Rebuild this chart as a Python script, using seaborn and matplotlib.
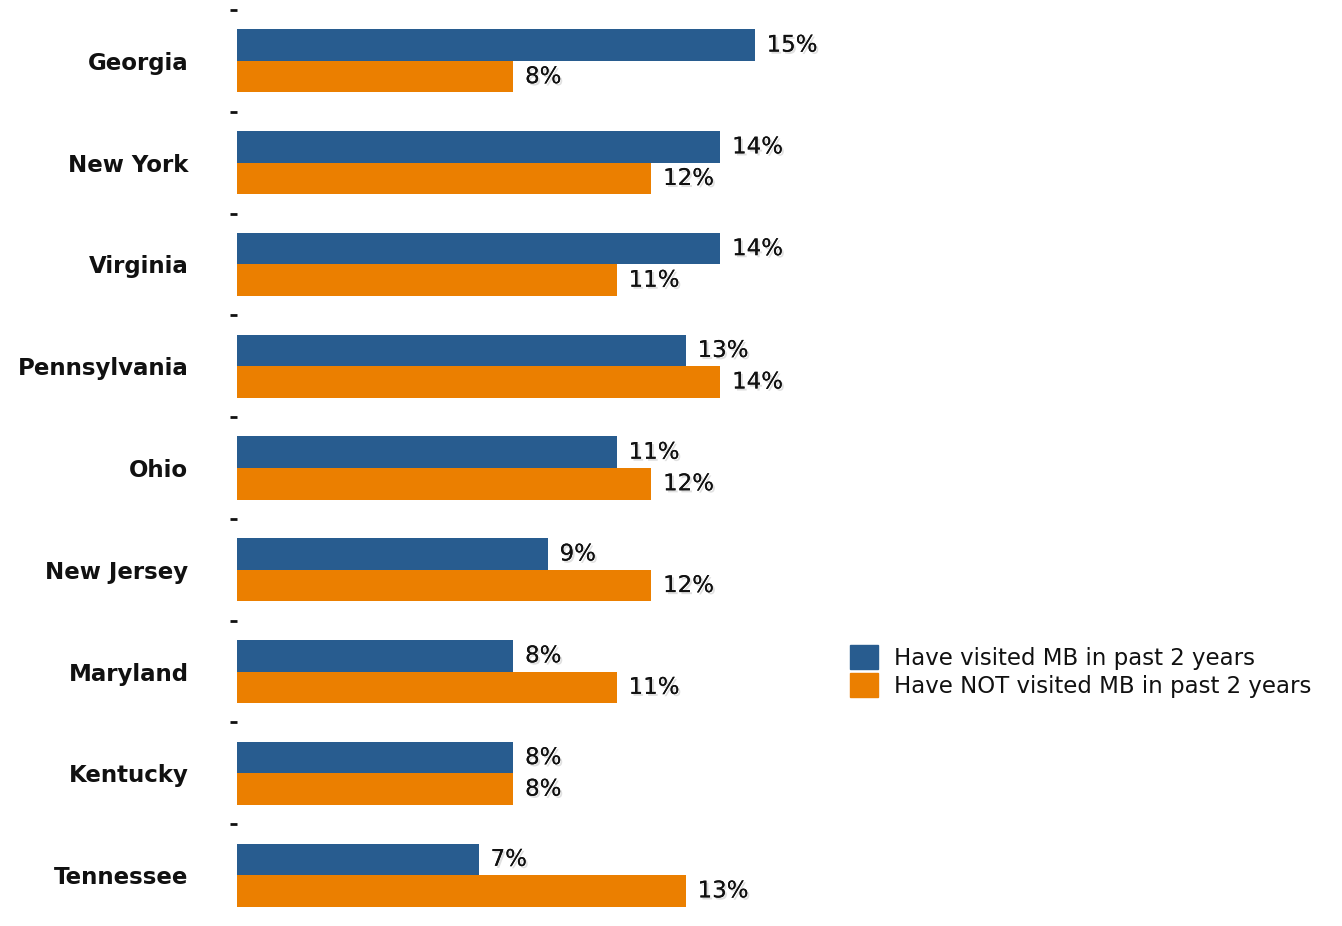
import matplotlib
matplotlib.use("Agg")
import matplotlib.pyplot as plt
import matplotlib.patheffects as pe
import seaborn as sns
import pandas as pd
import numpy as np

states = ["Georgia", "New York", "Virginia", "Pennsylvania", "Ohio",
          "New Jersey", "Maryland", "Kentucky", "Tennessee"]
visited = [15, 14, 14, 13, 11, 9, 8, 8, 7]
not_visited = [8, 12, 11, 14, 12, 12, 11, 8, 13]
series_names = ["Have visited MB in past 2 years",
                "Have NOT visited MB in past 2 years"]
colors = ["#285C8F", "#EB7F00"]

df = pd.DataFrame({
    "state": states * 2,
    "pct": visited + not_visited,
    "group": [series_names[0]] * len(states) + [series_names[1]] * len(states),
})

sns.set_theme(style="white")
plt.rcParams["font.family"] = ["DejaVu Sans"]

fig = plt.figure(figsize=(13.42, 9.26), dpi=100)
ax = fig.add_axes([237 / 1342, 0 / 926, 1035 / 1342, 916 / 926])

sns.barplot(data=df, x="pct", y="state", hue="group", order=states,
            hue_order=series_names, palette=colors, orient="h",
            width=0.62, saturation=1, ax=ax, legend=False, errorbar=None,
            linewidth=0)

shadow = [pe.withSimplePatchShadow(offset=(1.5, -1.5), shadow_rgbFace="#999999", alpha=0.3),
          pe.Normal()]
for cont in ax.containers:
    for bar in cont:
        w = bar.get_width()
        y = bar.get_y() + bar.get_height() / 2
        ax.text(w + 0.35, y, f"{w:.0f}%", va="center", ha="left",
                fontsize=16.5, color="#111111", path_effects=shadow)

ax.set_xlim(0, 30)
ax.set_ylim(len(states) - 0.5, -0.5)
ax.set_xlabel("")
ax.set_ylabel("")
ax.set_xticks([])
for s in ax.spines.values():
    s.set_visible(False)

# category labels at centres, short dashes on the boundaries above each group
ax.set_yticks(np.arange(len(states)))
ax.set_yticklabels(states, fontsize=16.5, fontweight="bold", color="#111111")
ax.set_yticks(np.arange(len(states)) - 0.5, minor=True)
ax.tick_params(axis="y", which="major", length=0, pad=35)
ax.tick_params(axis="y", which="minor", left=True, length=5, width=2,
               color="#111111", direction="out", pad=0)

handles = [plt.Rectangle((0, 0), 1, 1, color=c) for c in colors]
fig.legend(handles, series_names, loc="upper left",
           bbox_to_anchor=(841 / 1342, 1 - 636 / 926), frameon=False,
           fontsize=16.5, handlelength=1.2, handleheight=1.2,
           handletextpad=0.7, labelspacing=0.15, borderaxespad=0,
           labelcolor="#111111")

fig.savefig("out.png", dpi=100, facecolor="white")
